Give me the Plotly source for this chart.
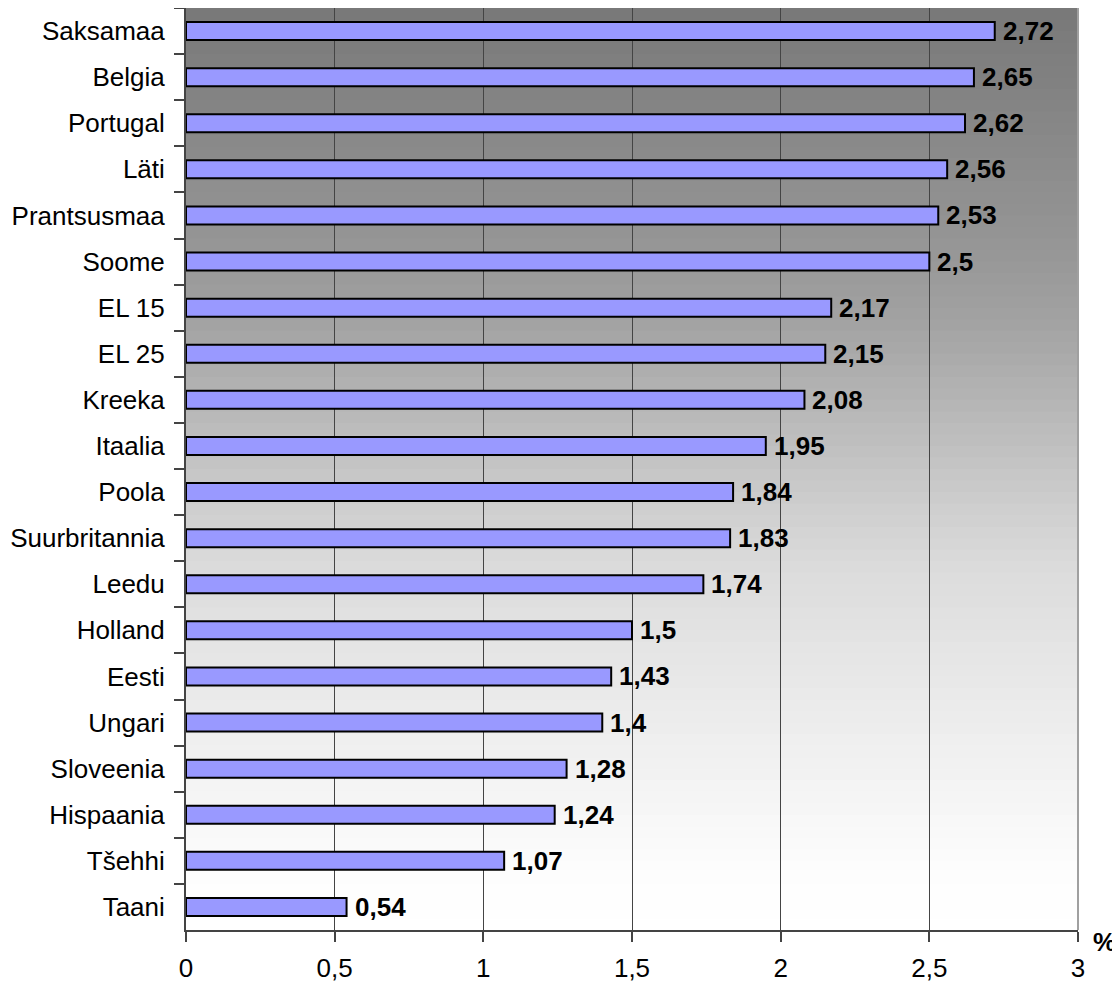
import plotly.graph_objects as go
import numpy as np

countries = ["Saksamaa", "Belgia", "Portugal", "Läti", "Prantsusmaa", "Soome", "EL 15", "EL 25",
             "Kreeka", "Itaalia", "Poola", "Suurbritannia", "Leedu", "Holland", "Eesti", "Ungari",
             "Sloveenia", "Hispaania", "Tšehhi", "Taani"]
values = [2.72, 2.65, 2.62, 2.56, 2.53, 2.5, 2.17, 2.15, 2.08, 1.95, 1.84, 1.83, 1.74, 1.5, 1.43,
          1.4, 1.28, 1.24, 1.07, 0.54]
value_labels = [f"{v:g}".replace(".", ",") for v in values]
x_ticks = [0, 0.5, 1, 1.5, 2, 2.5, 3]
x_tick_labels = [f"{t:g}".replace(".", ",") for t in x_ticks]

FONT = "Liberation Sans Narrow, Arial Narrow, Liberation Sans, Arial, sans-serif"
FS = 26

# page has an 8px body margin; margins below compensate for it
W, H = 1120, 991
L, R, T, B = 178, 50, 0, 69
plot_h = H - T - B
plot_w = W - L - R

fig = go.Figure()
fig.add_trace(go.Bar(
    y=countries, x=values, orientation="h",
    marker=dict(color="#9999ff", line=dict(color="#000000", width=2)),
    width=0.39,
))

annotations = []
for c, v, s in zip(countries, values, value_labels):
    annotations.append(dict(x=v, y=c, xref="x", yref="y", text=f"<b>{s}</b>", showarrow=False,
                            xanchor="left", yanchor="middle", xshift=6,
                            font=dict(family=FONT, size=FS, color="#000")))
annotations.append(dict(text="<b>%</b>", xref="paper", yref="paper", x=1 + 26 / plot_w, y=-12 / plot_h,
                        xanchor="center", yanchor="middle", showarrow=False,
                        font=dict(family=FONT, size=FS, color="#000")))

# vertical gradient background (pixel y from plot top -> gray level)
stops_px = [0, 262, 322, 472, 562, 862, 922]
stops_val = [120, 153, 164, 200, 220, 253, 255]
shapes = []
n = 80
for i in range(n):
    y0 = i / n
    y1 = (i + 1) / n
    ymid_px = plot_h * (1 - (y0 + y1) / 2)
    g = int(round(np.interp(ymid_px, stops_px, stops_val)))
    c = f"rgb({g},{g},{g})"
    shapes.append(dict(type="rect", xref="paper", yref="paper", x0=0, x1=1, y0=y0, y1=y1 + 0.001,
                       fillcolor=c, line=dict(width=0), layer="below"))
shapes.append(dict(type="line", xref="paper", yref="paper", x0=1, x1=1, y0=0, y1=1,
                   line=dict(color="#a0a0a0", width=2), layer="between"))

fig.update_layout(
    width=W, height=H,
    margin=dict(l=L, r=R, t=T, b=B, autoexpand=False),
    paper_bgcolor="white", plot_bgcolor="rgba(0,0,0,0)",
    showlegend=False,
    shapes=shapes,
    annotations=annotations,
    font=dict(family=FONT, size=FS, color="#000000"),
)
fig.update_xaxes(
    range=[0, 3], tickvals=x_ticks, ticktext=x_tick_labels,
    showgrid=True, gridcolor="#444444", gridwidth=1,
    showline=True, linecolor="#444444", linewidth=2,
    ticks="outside", ticklen=10, tickcolor="#444444", tickwidth=2,
    ticklabelstandoff=4, zeroline=False, automargin=False,
    tickfont=dict(family=FONT, size=FS, color="#000"),
)
fig.update_yaxes(
    categoryorder="array", categoryarray=countries, autorange="reversed",
    showline=True, linecolor="#444444", linewidth=2,
    ticks="outside", ticklen=10, tickcolor="#444444", tickwidth=2,
    tickson="boundaries", showgrid=False, ticklabelstandoff=14, automargin=False,
    tickfont=dict(family=FONT, size=FS, color="#000"),
)

fig.write_html("out.html")
